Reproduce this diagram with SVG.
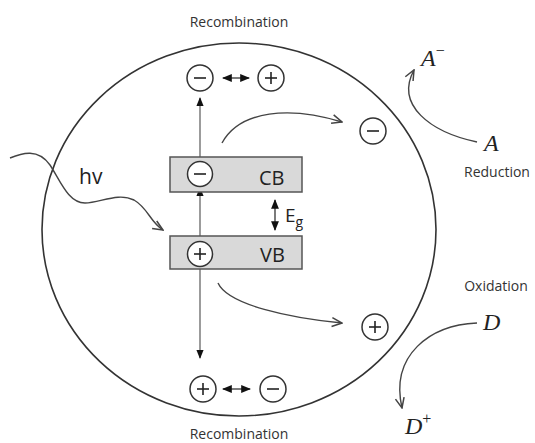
<svg xmlns="http://www.w3.org/2000/svg" width="535" height="443" viewBox="0 0 535 443">
  <defs>
    <style>
      .lbl { font-family: "Open Sans", "Lato", sans-serif; fill: #333; }
      .band { fill: #d9d9d9; stroke: #555; stroke-width: 1.5; }
      .carrier { fill: #fff; stroke: #333; stroke-width: 1.5; }
      .sign { stroke: #222; stroke-width: 1.6; fill: none; }
      .conn { fill: none; stroke: #444; stroke-width: 1.4; }
      .vline { fill: none; stroke: #666; stroke-width: 1.3; }
      .math { font-family: "Liberation Serif", "DejaVu Serif", serif; font-style: italic; fill: #222; }
      .band-txt { font-family: "Open Sans", "Liberation Sans", sans-serif; fill: #222; }
    </style>
    <marker id="tri" viewBox="0 0 10 10" refX="9" refY="5" markerWidth="7" markerHeight="7" orient="auto-start-reverse">
      <path d="M0,1 L10,5 L0,9 z" fill="#111"/>
    </marker>
    <marker id="open" viewBox="0 0 10 10" refX="9" refY="5" markerWidth="9" markerHeight="9" orient="auto">
      <path d="M1,1.5 L9,5 L1,8.5" fill="none" stroke="#444" stroke-width="1.2"/>
    </marker>
  </defs>

  <!-- particle -->
  <ellipse id="particle" cx="239" cy="229.5" rx="197" ry="186.5" fill="none" stroke="#333" stroke-width="1.6"/>

  <!-- connectors -->
  <g id="connectors">
    <!-- photon -->
    <path class="conn" d="M10,158 C22,153 38,148 50,165 C60,180 68,203 85,203 C100,203 118,192 134,200 C148,208 150,222 163,230" marker-end="url(#open)"/>
    <!-- excitation VB -> CB -->
    <line class="vline" x1="200" y1="242" x2="200" y2="188" marker-end="url(#tri)"/>
    <!-- CB up to surface -->
    <line class="vline" x1="200" y1="157" x2="200" y2="98" marker-end="url(#tri)"/>
    <!-- VB down to surface -->
    <line class="vline" x1="200" y1="269" x2="200" y2="358" marker-end="url(#tri)"/>
    <!-- band gap -->
    <line class="conn" x1="275" y1="200" x2="275" y2="230" stroke="#222" marker-start="url(#tri)" marker-end="url(#tri)"/>
    <!-- recombination top -->
    <line class="conn" x1="223" y1="78" x2="249" y2="78" stroke="#222" marker-start="url(#tri)" marker-end="url(#tri)"/>
    <!-- recombination bottom -->
    <line class="conn" x1="223" y1="389" x2="250" y2="389" stroke="#222" marker-start="url(#tri)" marker-end="url(#tri)"/>
    <!-- electron migration -->
    <path class="conn" d="M222,143 C240,110 290,106 342,122" marker-end="url(#open)"/>
    <!-- hole migration -->
    <path class="conn" d="M218,283 C228,305 290,318 342,323" marker-end="url(#open)"/>
    <!-- reduction -->
    <path class="conn" d="M477,142 C430,132 395,105 414,70" marker-end="url(#open)"/>
    <!-- oxidation -->
    <path class="conn" d="M477,323 C430,325 390,355 402,408" marker-end="url(#open)"/>
  </g>

  <!-- conduction band -->
  <g id="cb">
    <rect class="band" x="170" y="157" width="132" height="35"/>
    <circle class="carrier" cx="200" cy="174" r="12.5"/>
    <line class="sign" x1="194" y1="174" x2="206" y2="174"/>
    <text class="band-txt" x="259" y="185" font-size="20">CB</text>
  </g>

  <!-- valence band -->
  <g id="vb">
    <rect class="band" x="170" y="236" width="132" height="33"/>
    <circle class="carrier" cx="200" cy="254" r="12.5"/>
    <line class="sign" x1="194" y1="254" x2="206" y2="254"/>
    <line class="sign" x1="200" y1="248" x2="200" y2="260"/>
    <text class="band-txt" x="260" y="262" font-size="20">VB</text>
  </g>

  <g id="eg">
    <text class="band-txt" x="285" y="222" font-size="19">E<tspan font-size="14" dy="5">g</tspan></text>
  </g>

  <g id="hv">
    <text class="band-txt" x="79" y="184" font-size="21">hv</text>
  </g>

  <!-- top recombination pair -->
  <g id="recomb-top">
    <text class="lbl" x="239" y="27" font-size="14" text-anchor="middle">Recombination</text>
    <circle class="carrier" cx="200" cy="78" r="13"/>
    <line class="sign" x1="194" y1="78" x2="206" y2="78"/>
    <circle class="carrier" cx="271" cy="78" r="13"/>
    <line class="sign" x1="265" y1="78" x2="277" y2="78"/>
    <line class="sign" x1="271" y1="72" x2="271" y2="84"/>
  </g>

  <!-- bottom recombination pair -->
  <g id="recomb-bottom">
    <circle class="carrier" cx="203" cy="389" r="13"/>
    <line class="sign" x1="197" y1="389" x2="209" y2="389"/>
    <line class="sign" x1="203" y1="383" x2="203" y2="395"/>
    <circle class="carrier" cx="273" cy="389" r="13"/>
    <line class="sign" x1="267" y1="389" x2="279" y2="389"/>
    <text class="lbl" x="239" y="439" font-size="14" text-anchor="middle">Recombination</text>
  </g>

  <!-- surface electron -->
  <g id="electron">
    <circle class="carrier" cx="373" cy="131" r="13"/>
    <line class="sign" x1="367" y1="131" x2="379" y2="131"/>
  </g>

  <!-- surface hole -->
  <g id="hole">
    <circle class="carrier" cx="375" cy="327" r="13"/>
    <line class="sign" x1="369" y1="327" x2="381" y2="327"/>
    <line class="sign" x1="375" y1="321" x2="375" y2="333"/>
  </g>

  <!-- reduction -->
  <g id="reduction">
    <text class="math" x="421" y="66" font-size="24">A<tspan font-style="normal" font-size="16" dy="-10">−</tspan></text>
    <text class="math" x="484" y="151" font-size="24">A</text>
    <text class="lbl" x="497" y="177" font-size="14" text-anchor="middle">Reduction</text>
  </g>

  <!-- oxidation -->
  <g id="oxidation">
    <text class="lbl" x="496" y="291" font-size="14" text-anchor="middle">Oxidation</text>
    <text class="math" x="483" y="330" font-size="24">D</text>
    <text class="math" x="405" y="434" font-size="24">D<tspan font-style="normal" font-size="16" dy="-10">+</tspan></text>
  </g>
</svg>
